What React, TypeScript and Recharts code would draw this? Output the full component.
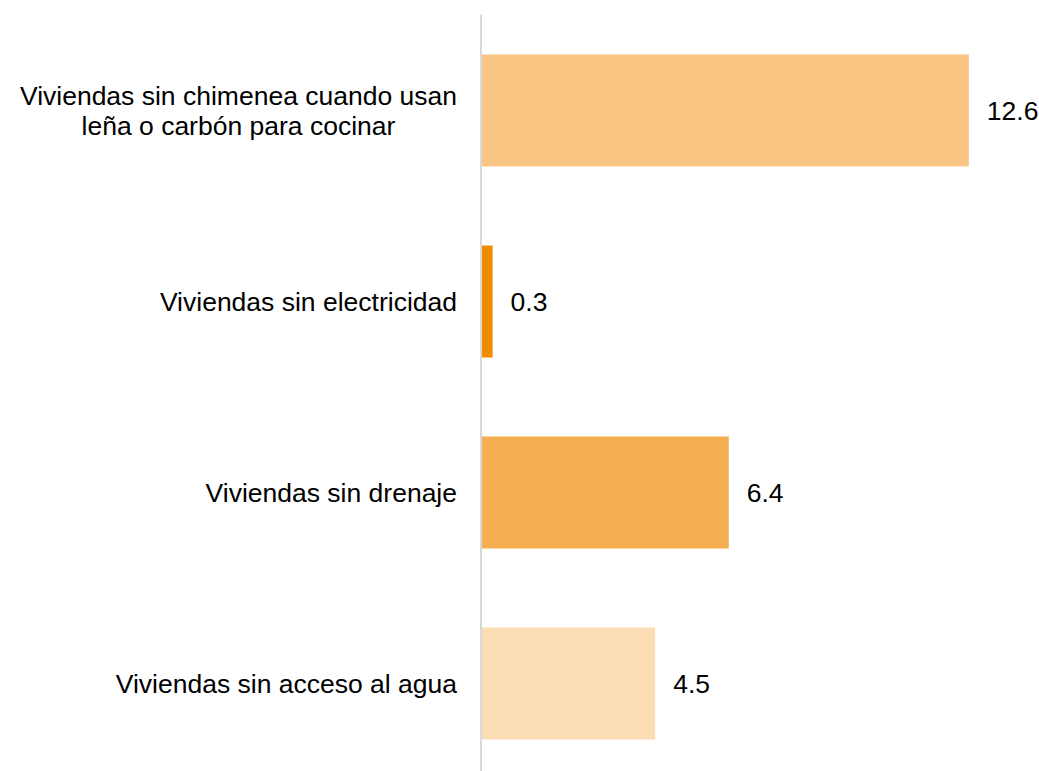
import { Bar, BarChart, Cell, LabelList, XAxis, YAxis } from "recharts";

const categories = [
  "Viviendas sin chimenea cuando usan|leña o carbón para cocinar",
  "Viviendas sin electricidad",
  "Viviendas sin drenaje",
  "Viviendas sin acceso al agua",
];
const values = [12.6, 0.3, 6.4, 4.5];
const colors = ["#F8C582", "#F08B00", "#F5AE50", "#FBDCB4"];

const data = categories.map((c, i) => ({ name: c, value: values[i] }));

const FONT = "Liberation Sans, Arial, sans-serif";
const FONT_SIZE = 26.5;

function measure(text: string) {
  const canvas = document.createElement("canvas");
  const ctx = canvas.getContext("2d");
  if (!ctx) return text.length * 13;
  ctx.font = `${FONT_SIZE}px ${FONT}`;
  return ctx.measureText(text).width;
}

function CategoryTick(props: any) {
  const { x, y, payload } = props;
  const lines: string[] = String(payload.value).split("|");
  const right = x - 16;
  const widest = Math.max(...lines.map(measure));
  const cx = right - widest / 2;
  const lineH = 30;
  const first = -((lines.length - 1) * lineH) / 2;
  return (
    <text
      x={cx}
      y={y}
      textAnchor="middle"
      fontFamily={FONT}
      fontSize={FONT_SIZE}
      fill="#000"
    >
      {lines.map((l, i) => (
        <tspan key={i} x={cx} y={y + first + i * lineH} dy="0.36em">
          {l}
        </tspan>
      ))}
    </text>
  );
}

export default function App() {
  return (
    <div
      style={{
        position: "fixed",
        left: 0,
        top: 0,
        width: 1039,
        height: 771,
        overflow: "hidden",
        background: "#fff",
      }}
    >
      <BarChart
        width={1039}
        height={780}
        data={data}
        layout="vertical"
        margin={{ top: 14.5, right: 16, bottom: 1.5, left: 0 }}
        barSize={112}
      >
        <XAxis type="number" domain={[0, 14]} hide />
        <YAxis
          type="category"
          dataKey="name"
          width={481}
          axisLine={{ stroke: "#d9d9d9", strokeWidth: 2 }}
          tickLine={false}
          tick={<CategoryTick />}
          interval={0}
        />
        <Bar dataKey="value" isAnimationActive={false}>
          {data.map((_, i) => (
            <Cell key={i} fill={colors[i]} />
          ))}
          <LabelList
            dataKey="value"
            position="right"
            offset={18}
            fontFamily={FONT}
            fontSize={FONT_SIZE}
            fill="#000"
            formatter={(v: any) => Number(v).toFixed(1)}
          />
        </Bar>
      </BarChart>
    </div>
  );
}
